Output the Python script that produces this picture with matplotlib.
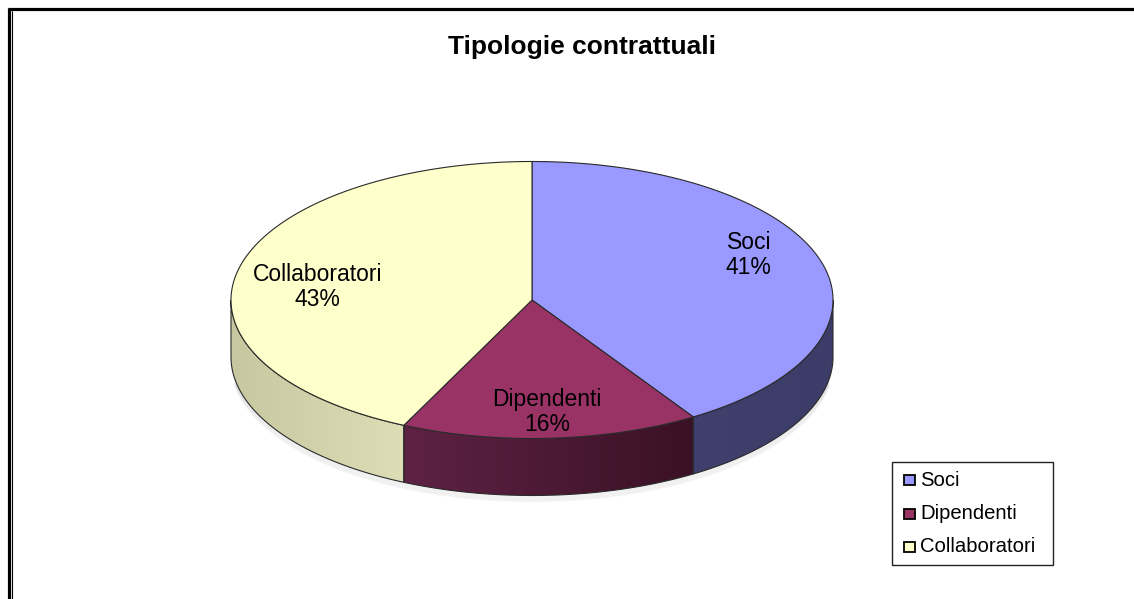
import numpy as np
import matplotlib
matplotlib.use("Agg")
import matplotlib.pyplot as plt
from matplotlib.patches import Polygon, Rectangle
from matplotlib.colors import to_rgb
from matplotlib.lines import Line2D

# ---- data ----
categories = ["Soci", "Dipendenti", "Collaboratori"]
values = [41, 16, 43]
top_colors = ["#9999FF", "#993366", "#FFFFCC"]
side_left = ["#40406e", "#5e2244", "#c8c8a0"]
side_right = ["#3c3c68", "#3a1125", "#dedeb6"]
title = "Tipologie contrattuali"

W, H = 1134, 599
fig = plt.figure(figsize=(W / 100, H / 100), dpi=100)
ax = fig.add_axes([0, 0, 1, 1])
ax.axis("off")

FONT = ["Liberation Sans", "DejaVu Sans"]
cx, cy, a, b, depth = 532, 300, 301, 138.5, 57
EDGE = "#2a2a2a"


def arc(t1, t2, dy=0, n=120):
    t = np.radians(np.linspace(t1, t2, n))
    return np.column_stack([cx + a * np.cos(t), cy - b * np.sin(t) + dy])


total = float(sum(values))
starts, ends = [], []
ang = 90.0
for v in values:
    starts.append(ang)
    ang -= v / total * 360.0
    ends.append(ang)

# soft shadow under pie
for k in range(5):
    sh = arc(-10, -170, dy=depth + 1 + k * 1.2)
    ax.plot(sh[:, 0], sh[:, 1], color="#000000", alpha=0.03, lw=1.5, zorder=1)

# side faces (visible front band: t in [-180, 0])
for i in range(len(values)):
    s, e = starts[i], ends[i]
    for off in (0, -360, 360):
        hi = min(s + off, 0.0)
        lo = max(e + off, -180.0)
        if hi > lo:
            top = arc(hi, lo)
            bot = arc(lo, hi, dy=depth)
            poly = np.vstack([top, bot])
            patch = Polygon(poly, closed=True, facecolor="none", edgecolor="none", zorder=2)
            ax.add_patch(patch)
            c1 = np.array(to_rgb(side_left[i]))
            c2 = np.array(to_rgb(side_right[i]))
            g = np.linspace(0, 1, 256)[None, :, None]
            img = c1[None, None, :] * (1 - g) + c2[None, None, :] * g
            x0, x1 = poly[:, 0].min(), poly[:, 0].max()
            y0, y1 = poly[:, 1].min(), poly[:, 1].max()
            im = ax.imshow(img, extent=(x0, x1, y1, y0), aspect="auto",
                           interpolation="bilinear", zorder=2)
            im.set_clip_path(patch)
            ax.add_patch(Polygon(poly, closed=True, facecolor="none", edgecolor=EDGE,
                                 lw=0.8, zorder=3))

# top faces
for i in range(len(values)):
    pts = np.vstack([[cx, cy], arc(starts[i], ends[i], n=200)])
    ax.add_patch(Polygon(pts, closed=True, facecolor=top_colors[i],
                         edgecolor=EDGE, lw=0.8, zorder=4))

# labels
label_r = [0.75, 0.79, 0.73]
label_dy = [-16, 3, 9]
for i in range(len(values)):
    mid = np.radians((starts[i] + ends[i]) / 2)
    lx = cx + a * label_r[i] * np.cos(mid)
    ly = cy - b * label_r[i] * np.sin(mid) + label_dy[i]
    ax.text(lx, ly, f"{categories[i]}\n{values[i]:.0f}%", ha="center", va="center",
            fontsize=16.5, family=FONT, linespacing=1.08, zorder=5, color="#000000")

# title
ax.text(582, 47, title, ha="center", va="center", fontsize=19, fontweight="bold",
        family=FONT, color="#000000")

# legend box
ax.add_patch(Rectangle((892, 462), 161, 103, facecolor="white", edgecolor="#222222",
                       lw=1.0, zorder=5))
for i, name in enumerate(categories):
    yy = 480 + 33.5 * i
    ax.add_patch(Rectangle((904, yy - 5), 11, 10, facecolor=top_colors[i],
                           edgecolor="black", lw=1.3, zorder=6))
    ax.text(920, yy, name, ha="left", va="center", fontsize=14.6, family=FONT,
            zorder=6, color="#000000")

# outer frame
ax.add_line(Line2D([8, W], [9, 9], color="black", lw=2.3, solid_capstyle="butt"))
ax.add_line(Line2D([9, 9], [8, H], color="black", lw=2.3, solid_capstyle="butt"))
ax.add_line(Line2D([12, 12], [11, H], color="black", lw=0.8, solid_capstyle="butt"))

ax.set_xlim(0, W)
ax.set_ylim(H, 0)
fig.savefig("out.png", dpi=100, facecolor="white")
